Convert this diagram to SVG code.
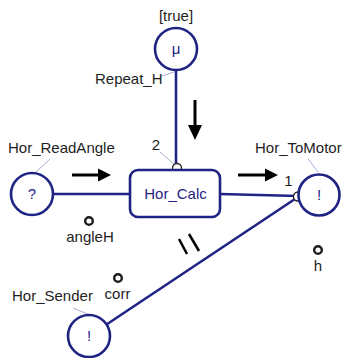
<svg xmlns="http://www.w3.org/2000/svg" width="343" height="358" viewBox="0 0 343 358">
<style>
.node{fill:#fff;stroke:#1f2384;stroke-width:2.6}
.wire{stroke:#1f2384;stroke-width:2.6;fill:none}
.lead{stroke:#a8aed6;stroke-width:1;fill:none}
.lbl{font-family:"Liberation Sans",Arial,sans-serif;font-size:15px;fill:#1e1e1e}
.in{font-family:"Liberation Sans",Arial,sans-serif;font-size:15px;fill:#1f2384;text-anchor:middle}
.port{fill:#fff;stroke:#1e1e1e;stroke-width:1.3}
.ring{fill:#fff;stroke:#1a1a1a;stroke-width:2.4}
.arr{stroke:#000;stroke-width:3;fill:none}
</style>
<rect width="343" height="358" fill="#fff"/>
<g id="connectors">
<line class="wire" x1="176" y1="70" x2="176" y2="168"/>
<line class="wire" x1="53" y1="194" x2="130" y2="194"/>
<line class="wire" x1="220" y1="194" x2="298" y2="196"/>
<line class="wire" x1="298" y1="197" x2="106.5" y2="324.5"/>
<line class="lead" x1="162" y1="76" x2="174" y2="72"/>
<line class="lead" x1="160" y1="152" x2="175" y2="165"/>
<line class="lead" x1="50" y1="159" x2="36" y2="172"/>
<line class="lead" x1="308" y1="159" x2="318" y2="172"/>
<line class="lead" x1="73" y1="308" x2="90" y2="315"/>
<line class="arr" x1="195" y1="100" x2="195" y2="128"/>
<polygon points="188,125 202,125 195,140" fill="#000"/>
<line class="arr" x1="72" y1="175" x2="100" y2="175"/>
<polygon points="98,168.5 98,181.5 111,175" fill="#000"/>
<line class="arr" x1="238" y1="175" x2="267" y2="175"/>
<polygon points="265,168.5 265,181.5 278,175" fill="#000"/>
<line stroke="#000" stroke-width="2.5" x1="179" y1="239" x2="187" y2="254"/>
<line stroke="#000" stroke-width="2.5" x1="189" y1="234" x2="199" y2="251"/>
<circle class="port" cx="177" cy="168" r="4.5"/>
<circle class="port" cx="298" cy="196.5" r="4.5"/>
<text class="lbl" x="156" y="150" text-anchor="middle">2</text>
<text class="lbl" x="288.5" y="186" text-anchor="middle">1</text>
</g>
<g id="Repeat_H">
<circle class="node" cx="176" cy="49" r="21"/>
<text class="in" x="176" y="54">μ</text>
<text class="lbl" x="176" y="21" text-anchor="middle">[true]</text>
<text class="lbl" x="95" y="84">Repeat_H</text>
</g>
<g id="Hor_Calc">
<rect class="node" x="130" y="170" width="90" height="47" rx="8"/>
<text class="in" x="175.5" y="199">Hor_Calc</text>
</g>
<g id="Hor_ReadAngle">
<circle class="node" cx="32" cy="194" r="21"/>
<text class="in" x="32" y="199">?</text>
<text class="lbl" x="8" y="153">Hor_ReadAngle</text>
</g>
<g id="Hor_ToMotor">
<circle class="node" cx="319" cy="195" r="20.5"/>
<text class="in" x="319" y="200">!</text>
<text class="lbl" x="255" y="153">Hor_ToMotor</text>
</g>
<g id="Hor_Sender">
<circle class="node" cx="89" cy="336" r="21"/>
<text class="in" x="89" y="341">!</text>
<text class="lbl" x="12" y="301">Hor_Sender</text>
</g>
<g id="angleH">
<circle class="ring" cx="89" cy="221" r="3.8"/>
<text class="lbl" x="90" y="242" text-anchor="middle">angleH</text>
</g>
<g id="corr">
<circle class="ring" cx="118" cy="278" r="3.8"/>
<text class="lbl" x="117.5" y="299" text-anchor="middle">corr</text>
</g>
<g id="h">
<circle class="ring" cx="318" cy="250" r="3.8"/>
<text class="lbl" x="318" y="271" text-anchor="middle">h</text>
</g>
</svg>
